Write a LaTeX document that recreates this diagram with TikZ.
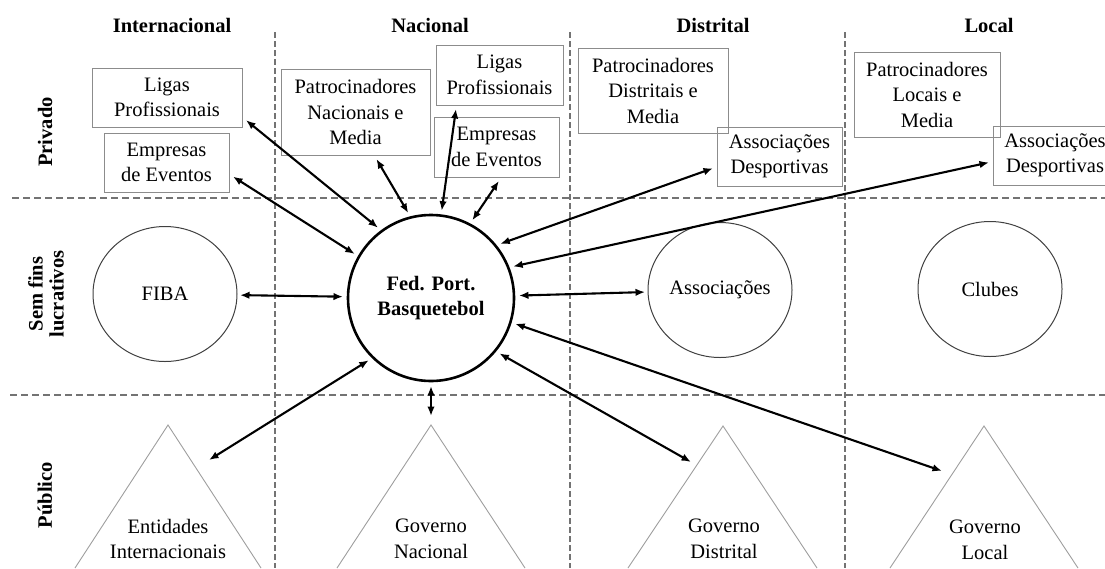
\documentclass[tikz,border=0pt]{standalone}
\usepackage{fontspec}
\setmainfont{Liberation Serif}
\usetikzlibrary{arrows.meta,shapes.geometric}

\tikzset{
  zone/.style={draw=black!55, line width=1.1pt, dash pattern=on 7pt off 4pt},
  vzone/.style={zone, dash pattern=on 5.5pt off 3.5pt},
  head/.style={font=\bfseries, anchor=base},
  side/.style={font=\bfseries, rotate=90, align=center},
  entity/.style={draw=black!45, line width=0.9pt, align=center, inner sep=0pt, outer sep=4pt},
  org/.style={ellipse, draw=black!75, line width=1pt, minimum width=144pt, minimum height=135pt, inner sep=0pt, outer sep=3pt},
  tri/.style={draw=black!38, line width=0.9pt},
  link/.style={<->, >={Latex[length=9.5pt,width=7.5pt]}, line width=2.1pt},
}

\begin{document}
\begin{tikzpicture}[x=1pt,y=-1pt]
    \fontsize{20.5}{25.5}\selectfont
    \useasboundingbox (0,0) rectangle (1105,568);
    \clip (0,0) rectangle (1105,568);

    \draw[zone] (12,198) -- (1105,198);
    \draw[zone] (10,395) -- (1105,395);
    \draw[vzone] (275,32) -- (275,568);
    \draw[vzone] (570,32) -- (570,568);
    \draw[vzone] (845,32) -- (845,568);

    \node[head] (intl) at (172,32) {Internacional};
    \node[head] (nac) at (430,32) {Nacional};
    \node[head] (dist) at (713,32) {Distrital};
    \node[head] (loc) at (989,32) {Local};

    \node[side] (priv) at (45,132) {Privado};
    \node[side, font=\bfseries\fontsize{20.5}{21}\selectfont] (semfins) at (46,294) {Sem fins\\lucrativos};
    \node[side] (publ) at (45,495) {Público};

    % privado
    \node[entity, minimum width=150pt, minimum height=59pt] (ligasI) at (167,97.5) {Ligas\\Profissionais};
    \node[entity, minimum width=125pt, minimum height=59pt] (empI) at (166.5,162.5) {Empresas\\de Eventos};
    \node[entity, minimum width=149pt, minimum height=86pt] (patN) at (355.5,112) {Patrocinadores\\Nacionais e\\Media};
    \node[entity, minimum width=127pt, minimum height=60pt] (ligasN) at (499.5,75) {Ligas\\Profissionais};
    \node[entity, minimum width=125pt, minimum height=60pt] (empN) at (496.5,147) {Empresas\\de Eventos};
    \node[entity, minimum width=150pt, minimum height=85pt] (patD) at (653,90.5) {Patrocinadores\\Distritais e\\Media};
    \node[entity, minimum width=125pt, minimum height=59pt] (assocD) at (779.5,156.5) {Associações\\Desportivas};
    \node[entity, minimum width=146pt, minimum height=85pt] (patL) at (927,94.5) {Patrocinadores\\Locais e\\Media};
    \node[entity, minimum width=124pt, minimum height=59pt] (assocL) at (1055,155.5) {Associações\\Desportivas};

    % sem fins lucrativos
    \node[org] (fiba) at (165,294) {FIBA};
    \node[org] (assoc) at (720,290) {Associações};
    \node[org] (clubes) at (990,289) {Clubes};
    \node[draw, circle, line width=2.6pt, minimum size=166pt, inner sep=0pt, outer sep=5pt,
          font=\bfseries, align=center] (fed) at (431,298) {Fed. Port.\\Basquetebol};

    % publico
    \draw[tri] (75,568) -- (168,425) coordinate (entItop) -- (261,568);
    \draw[tri] (337,568) -- (431,425) coordinate (govNtop) -- (525,568);
    \draw[tri] (628,568) -- (723,426) coordinate (govDtop) -- (817,568);
    \draw[tri] (890,568) -- (984,426) coordinate (govLtop) -- (1078,568);
    \node[align=center] (entI) at (168,539) {Entidades\\Internacionais};
    \node[align=center] (govN) at (431,539) {Governo\\Nacional};
    \node[align=center] (govD) at (724,539) {Governo\\Distrital};
    \node[align=center] (govL) at (985,540) {Governo\\Local};
    \coordinate (entIend) at (209,460);
    \coordinate (govDend) at (691,462);
    \coordinate (govLend) at (942,471);

    \draw[link] (ligasI.-16) -- (fed.127);
    \draw[link] (empI.-12) -- (fed.150);
    \draw[link] (patN.-66) -- (fed.105);
    \draw[link] (ligasN.-142) -- (fed.83);
    \draw[link] (empN.-86) -- (fed.62);
    \draw[link] (assocD.190) -- (fed.38);
    \draw[link] (assocL.186) -- (fed.21);
    \draw[link] (fiba) -- (fed);
    \draw[link] (fed) -- (assoc);
    \draw[link] (fed.225) -- (entIend);
    \draw[link, shorten >=9pt] (fed.south) -- (govNtop);
    \draw[link] (fed.-39) -- (govDend);
    \draw[link] (fed.-17) -- (govLend);
\end{tikzpicture}
\end{document}
